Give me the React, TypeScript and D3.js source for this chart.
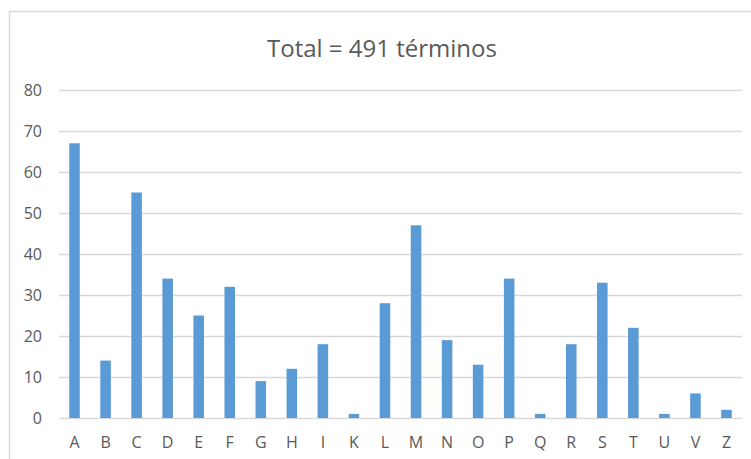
import React from "react";
import * as d3 from "d3";

const LETTERS = ["A", "B", "C", "D", "E", "F", "G", "H", "I", "K", "L", "M", "N", "O", "P", "Q", "R", "S", "T", "U", "V", "Z"];
const COUNTS = [67, 14, 55, 34, 25, 32, 9, 12, 18, 1, 28, 47, 19, 13, 34, 1, 18, 33, 22, 1, 6, 2];
const Y_TICKS = [0, 10, 20, 30, 40, 50, 60, 70, 80];
const TITLE = "Total = 491 términos";

export default function App() {
  const width = 751;
  const height = 459;
  const margin = { top: 90, right: 9, bottom: 41, left: 59 };
  const font = "'Open Sans', 'Liberation Sans', sans-serif";

  const x = d3
    .scaleBand<string>()
    .domain(LETTERS)
    .range([margin.left, width - margin.right])
    .paddingInner(0.66)
    .paddingOuter(0.33);
  const y = d3.scaleLinear().domain([0, 80]).range([height - margin.bottom, margin.top]);

  return (
    <svg
      width={width}
      height={height}
      style={{ position: "absolute", left: 0, top: 0, display: "block" }}
    >
      <rect x={0} y={0} width={width} height={height} fill="#fff" />
      {/* chart frame */}
      <rect x={9.5} y={11.5} width={width} height={height} fill="none" stroke="#d9d9d9" strokeWidth={1.5} />

      <text x={382} y={57} textAnchor="middle" fontFamily={font} fontSize={24} fill="#595959">
        {TITLE}
      </text>

      {/* grid */}
      {Y_TICKS.map((t) => (
        <g key={t}>
          <line
            x1={margin.left}
            x2={width - margin.right}
            y1={Math.round(y(t)) + 0.5}
            y2={Math.round(y(t)) + 0.5}
            stroke="#d9d9d9"
            strokeWidth={1.3}
          />
          <text
            x={42}
            y={y(t)}
            dy="0.36em"
            textAnchor="end"
            fontFamily={font}
            fontSize={16}
            fill="#595959"
          >
            {t}
          </text>
        </g>
      ))}

      {/* bars */}
      {LETTERS.map((l, i) => (
        <rect
          key={l}
          x={x(l)}
          y={y(COUNTS[i])}
          width={x.bandwidth()}
          height={y(0) - y(COUNTS[i])}
          fill="#5b9bd5"
        />
      ))}

      {/* x labels */}
      {LETTERS.map((l) => (
        <text
          key={l}
          x={(x(l) ?? 0) + x.bandwidth() / 2}
          y={448}
          textAnchor="middle"
          fontFamily={font}
          fontSize={16}
          fill="#595959"
        >
          {l}
        </text>
      ))}
    </svg>
  );
}
